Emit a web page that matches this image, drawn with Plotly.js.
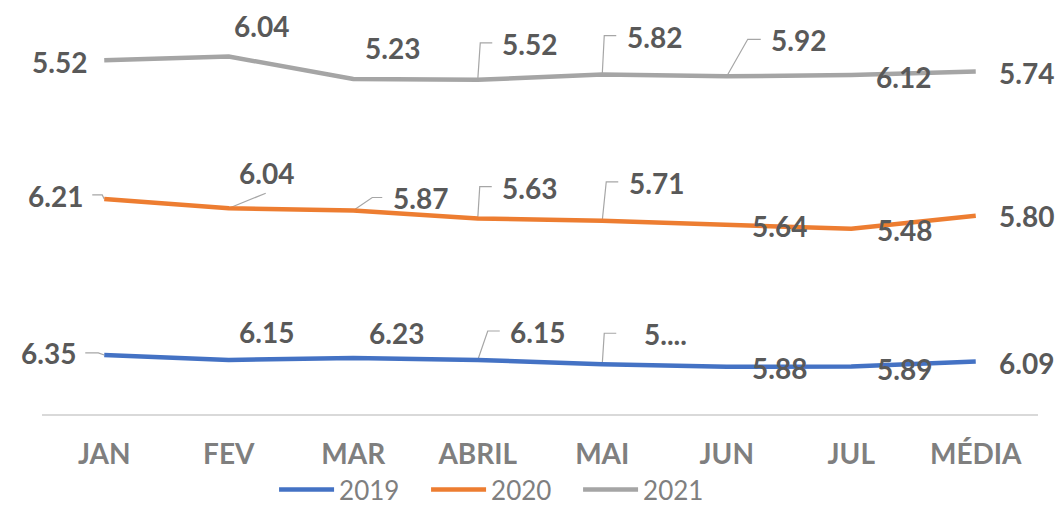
<!DOCTYPE html>
<html>
<head>
<meta charset="utf-8">
<script src="https://cdn.plot.ly/plotly-3.0.1.min.js"></script>
<style>html,body{margin:0;padding:0;background:#fff;}#chart{width:1059px;height:505px;}</style>
</head>
<body>
<div id="chart"></div>
<script>
// ---- data ----
const categories = ["JAN", "FEV", "MAR", "ABRIL", "MAI", "JUN", "JUL", "MÉDIA"];
const seriesNames = ["2019", "2020", "2021"];
const values2019 = [6.35, 6.15, 6.23, 6.15, 5.98, 5.88, 5.89, 6.09];
const values2020 = [6.21, 6.04, 5.87, 5.63, 5.71, 5.64, 5.48, 5.80];
const values2021 = [5.52, 6.04, 5.23, 5.52, 5.82, 5.92, 6.12, 5.74];
const labels2019 = ["6.35", "6.15", "6.23", "6.15", "5....", "5.88", "5.89", "6.09"];
const labels2020 = ["6.21", "6.04", "5.87", "5.63", "5.71", "5.64", "5.48", "5.80"];
const labels2021 = ["5.52", "6.04", "5.23", "5.52", "5.82", "5.92", "6.12", "5.74"];

// ---- styling / label placement (pixel offsets from each point: dx right, dy down) ----
const colors = ["#4472C4", "#ED7D31", "#A5A5A5"];
const labelOffsets = [
  [[-55.5,-2],[38,-27.5],[43,-25],[59.5,-27.5],[63.5,-29.8],[53,1.7],[53,2],[50.5,1.5]],
  [[-49,-3.4],[38,-35],[67.5,-12],[52,-31],[54,-37.3],[53,1.4],[53,0.7],[50.5,0.7]],
  [[-44.5,2],[32.5,-30],[39,-31],[52,-36],[52.5,-37.6],[71.5,-36.3],[52,2],[51,1.5]]
];
// leader lines: [seriesIndex, categoryIndex, [[dx,dy],...]] (dy down)
const leaders = [
  [0, 0, [[0,0],[-6,-2],[-19,-2]]],
  [0, 3, [[0,0],[10,-29],[22,-29]]],
  [0, 4, [[0,0],[2,-31],[14,-31]]],
  [1, 0, [[0,0],[-2,-4],[-12,-4]]],
  [1, 1, [[0,0],[37,-15]]],
  [1, 2, [[0,0],[19,-13],[29,-13]]],
  [1, 3, [[0,0],[2,-32],[14,-32]]],
  [1, 4, [[0,0],[4,-39],[16,-39]]],
  [2, 3, [[0,0],[2.5,-37],[14.5,-37]]],
  [2, 4, [[0,0],[2,-39],[14,-39]]],
  [2, 5, [[0,0],[21,-37],[34,-37]]]
];

const allValues = [values2019, values2020, values2021];
const allLabels = [labels2019, labels2020, labels2021];

// cumulative (stacked) positions for the labels
const stacked = [];
allValues.forEach((vals, s) => {
  stacked.push(vals.map((v, i) => v + (s > 0 ? stacked[s-1][i] : 0)));
});

const traces = allValues.map((vals, s) => ({
  type: "scatter",
  mode: "lines",
  x: categories,
  y: vals,
  name: seriesNames[s],
  stackgroup: "one",
  fill: "none",
  line: {color: colors[s], width: 4.5},
  hoverinfo: "skip"
}));

const annotations = [];
allLabels.forEach((labs, s) => {
  labs.forEach((t, i) => {
    annotations.push({
      x: categories[i], y: stacked[s][i], xref: "x", yref: "y",
      text: t, showarrow: false,
      xshift: labelOffsets[s][i][0], yshift: -labelOffsets[s][i][1],
      font: {family: "Lato, 'Open Sans', sans-serif", size: 28, color: "#595959", weight: 700},
      xanchor: "center", yanchor: "middle"
    });
  });
});

const shapes = leaders.map(([s, i, pts]) => ({
  type: "path",
  xref: "x", yref: "y",
  xsizemode: "pixel", ysizemode: "pixel",
  xanchor: categories[i], yanchor: stacked[s][i],
  path: pts.map((p, k) => (k === 0 ? "M" : "L") + p[0] + "," + (-p[1])).join(" "),
  line: {color: "#A6A6A6", width: 1.2},
  layer: "below"
}));

const layout = {
  width: 1059, height: 505,
  margin: {l: 42, r: 21, t: 12, b: 91, autoexpand: false},
  paper_bgcolor: "#ffffff", plot_bgcolor: "#ffffff",
  showlegend: true,
  legend: {
    orientation: "h", x: 0.233, xanchor: "left", y: -0.188, yanchor: "middle",
    traceorder: "normal", itemwidth: 55, entrywidth: 82, entrywidthmode: "pixels",
    font: {family: "Lato, 'Open Sans', sans-serif", size: 26, color: "#7F7F7F"}
  },
  xaxis: {
    type: "category", range: [-0.5, 7.5],
    showline: true, linecolor: "#D9D9D9", linewidth: 1.5,
    showgrid: false, zeroline: false, ticks: "", ticklabelstandoff: 15,
    tickfont: {family: "Lato, 'Open Sans', sans-serif", size: 28, color: "#7F7F7F", weight: 700},
    fixedrange: true
  },
  yaxis: {
    range: [4, 20], visible: false, showgrid: false, zeroline: false, fixedrange: true
  },
  annotations: annotations,
  shapes: shapes
};

Plotly.newPlot("chart", traces, layout, {displayModeBar: false, staticPlot: true});
</script>
</body>
</html>
